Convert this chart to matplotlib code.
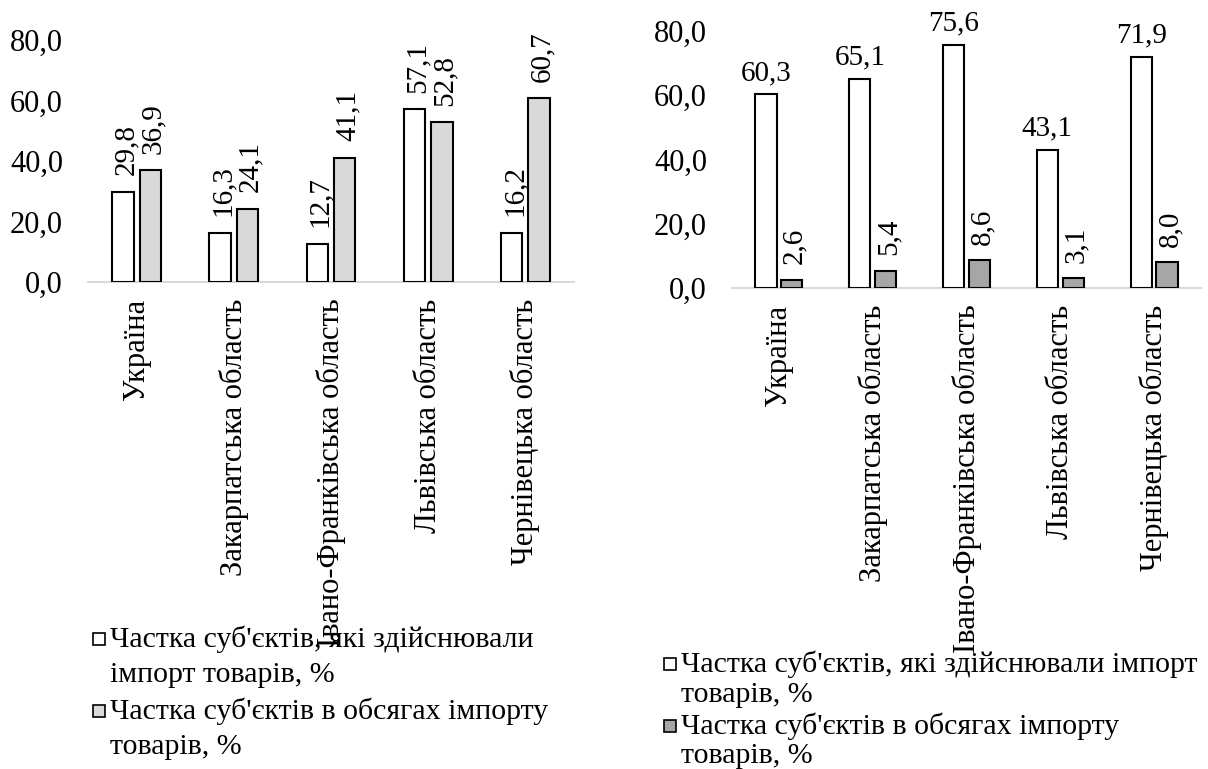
import numpy as np
import matplotlib.pyplot as plt
from matplotlib.patches import Rectangle

plt.rcParams['font.family'] = ['Liberation Serif', 'DejaVu Serif']

# data
regions = ['Україна', 'Закарпатська область', 'Івано-Франківська область',
           'Львівська область', 'Чернівецька область']
left_share_subj = [29.8, 16.3, 12.7, 57.1, 16.2]
left_share_volume = [36.9, 24.1, 41.1, 52.8, 60.7]
right_share_subj = [60.3, 65.1, 75.6, 43.1, 71.9]
right_share_volume = [2.6, 5.4, 8.6, 3.1, 8.0]
yticks = [0, 20, 40, 60, 80]

left_labels = ["Частка суб'єктів, які здійснювали\nімпорт товарів, %",
               "Частка суб'єктів в обсягах імпорту\nтоварів, %"]
right_labels = ["Частка суб'єктів, які здійснювали імпорт\nтоварів, %",
                "Частка суб'єктів в обсягах імпорту\nтоварів, %"]

W, H = 1208, 769
fig = plt.figure(figsize=(W / 100, H / 100), dpi=100)
x = np.arange(len(regions))


def fmt(v):
    return f'{v:.1f}'.replace('.', ',')


def setup_axis(ax):
    ax.set_ylim(0, 80)
    ax.set_xlim(-0.5, len(regions) - 0.5)
    ax.set_yticks(yticks)
    ax.set_yticklabels([fmt(t) for t in yticks], fontsize=22)
    ax.set_xticks(x)
    ax.set_xticklabels(regions, rotation=90, fontsize=22)
    ax.tick_params(axis='y', length=0, pad=18)
    ax.tick_params(axis='x', length=0, pad=12)
    for s in ['top', 'right', 'left']:
        ax.spines[s].set_visible(False)
    ax.spines['bottom'].set_color('#d9d9d9')
    ax.spines['bottom'].set_linewidth(1.5)


def draw_legend(colors, labels, x0, line_ys):
    # legend squares aligned to the first line of each entry, like in Excel
    k = 0
    for col, lab in zip(colors, labels):
        lines = lab.split('\n')
        y0 = line_ys[k]
        fig.patches.append(Rectangle((x0 / W, 1 - (y0 + 6) / H), 12 / W, 12 / H,
                                     transform=fig.transFigure, facecolor=col,
                                     edgecolor='black', lw=1.2))
        for ln in lines:
            fig.text((x0 + 17) / W, 1 - line_ys[k] / H, ln, fontsize=21.5,
                     ha='left', va='center')
            k += 1


# left panel
ax1 = fig.add_axes([88 / W, 1 - 282 / H, 486 / W, 242 / H])
w1, off1 = 0.22, 0.141
b1 = ax1.bar(x - off1, left_share_subj, w1, color='white', edgecolor='black', lw=1.5, zorder=3)
b2 = ax1.bar(x + off1, left_share_volume, w1, color='#d9d9d9', edgecolor='black', lw=1.5, zorder=3)
for bars, vals in [(b1, left_share_subj), (b2, left_share_volume)]:
    for r, v in zip(bars, vals):
        ax1.annotate(fmt(v), (r.get_x() + r.get_width() / 2, v), xytext=(2, 12),
                     textcoords='offset points', rotation=90, ha='center', va='bottom', fontsize=21)
setup_axis(ax1)
draw_legend(['white', '#d9d9d9'], left_labels, 93, [639, 675, 711, 747])

# right panel
ax2 = fig.add_axes([732 / W, 1 - 288 / H, 469 / W, 257 / H])
w2, off2 = 0.225, 0.138
c1 = ax2.bar(x - off2, right_share_subj, w2, color='white', edgecolor='black', lw=1.5, zorder=3)
c2 = ax2.bar(x + off2, right_share_volume, w2, color='#a6a6a6', edgecolor='black', lw=1.5, zorder=3)
for r, v in zip(c1, right_share_subj):
    ax2.annotate(fmt(v), (r.get_x() + r.get_width() / 2, v), xytext=(0, 6),
                 textcoords='offset points', ha='center', va='bottom', fontsize=21)
for r, v in zip(c2, right_share_volume):
    ax2.annotate(fmt(v), (r.get_x() + r.get_width() / 2, v), xytext=(2, 11),
                 textcoords='offset points', rotation=90, ha='center', va='bottom', fontsize=21)
setup_axis(ax2)
draw_legend(['white', '#a6a6a6'], right_labels, 664, [664, 695, 726, 756])

fig.savefig('out.png', dpi=100)
